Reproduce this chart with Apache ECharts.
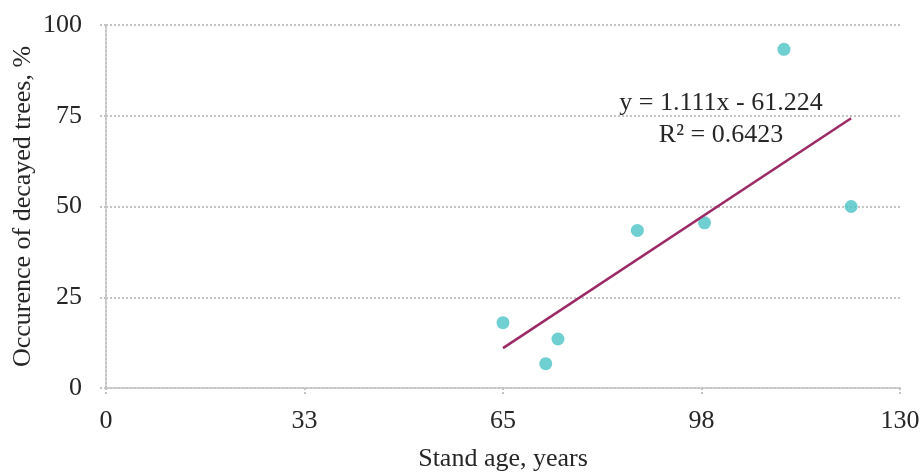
<!DOCTYPE html>
<html>
<head>
<meta charset="utf-8">
<script src="https://cdn.jsdelivr.net/npm/echarts@6/dist/echarts.min.js"></script>
<style>
  html, body { margin: 0; padding: 0; background: #fff; }
  #chart { width: 922px; height: 472px; }
</style>
</head>
<body>
<div id="chart"></div>
<script>
// stand age (years) vs share of decayed trees (%)
var standAge = [65, 72, 74, 87, 98, 111, 122];
var decayedShare = [18, 6.7, 13.5, 43.4, 45.5, 93.3, 50];
var xTicks = [0, 33, 65, 98, 130];
var yTicks = [0, 25, 50, 75, 100];

// linear trend as printed on the chart
var trendSlope = 1.111;
var trendIntercept = -61.224;
var trendLabel = 'y = 1.111x - 61.224';
var r2Label = 'R² = 0.6423';

var font = "'Liberation Serif', 'Times New Roman', serif";
var textColor = '#262626';
var gridColor = '#c4c4c4';
var dotted = { color: gridColor, width: 2, type: [2, 2] };

var points = standAge.map(function (a, i) { return [a, decayedShare[i]]; });
var xFirst = Math.min.apply(null, standAge);
var xLast = Math.max.apply(null, standAge);
var trendData = [
    [xFirst, trendSlope * xFirst + trendIntercept],
    [xLast, trendSlope * xLast + trendIntercept]
];

var chart = echarts.init(document.getElementById('chart'));
var option = {
    animation: false,
    grid: {
        left: 106,
        right: 22,
        top: 25,
        bottom: 84,
        outerBoundsMode: 'none'
    },
    xAxis: {
        type: 'value',
        min: xTicks[0],
        max: xTicks[xTicks.length - 1],
        interval: 32.5,
        name: 'Stand age, years',
        nameLocation: 'middle',
        nameGap: 58,
        nameMoveOverlap: false,
        nameTextStyle: { fontFamily: font, fontSize: 26, color: textColor },
        axisLine: { show: true, lineStyle: dotted },
        axisTick: { show: true, length: 8, lineStyle: dotted },
        splitLine: { show: false },
        axisLabel: {
            margin: 20,
            fontFamily: font,
            fontSize: 26,
            color: textColor,
            formatter: function (v) { return String(Math.round(v)); }
        }
    },
    yAxis: {
        type: 'value',
        min: yTicks[0],
        max: yTicks[yTicks.length - 1],
        interval: 25,
        name: 'Occurence of decayed trees, %',
        nameLocation: 'middle',
        nameGap: 70,
        nameMoveOverlap: false,
        nameTextStyle: { fontFamily: font, fontSize: 26, color: textColor },
        axisLine: { show: true, lineStyle: dotted },
        axisTick: { show: true, length: 7, lineStyle: dotted },
        splitLine: { show: true, lineStyle: dotted },
        axisLabel: {
            margin: 24,
            fontFamily: font,
            fontSize: 26,
            color: textColor
        }
    },
    series: [
        {
            type: 'scatter',
            data: points,
            symbolSize: 13,
            itemStyle: { color: '#4bc3c6' },
            z: 2
        },
        {
            type: 'line',
            data: trendData,
            showSymbol: false,
            lineStyle: { color: '#9c2a66', width: 2.5 },
            z: 3
        }
    ],
    graphic: [
        {
            type: 'text',
            x: 721,
            y: 103,
            style: {
                text: trendLabel,
                align: 'center',
                verticalAlign: 'middle',
                font: '26px ' + font,
                fill: textColor
            }
        },
        {
            type: 'text',
            x: 721,
            y: 135,
            style: {
                text: r2Label,
                align: 'center',
                verticalAlign: 'middle',
                font: '26px ' + font,
                fill: textColor
            }
        }
    ]
};
chart.setOption(option);
</script>
</body>
</html>
